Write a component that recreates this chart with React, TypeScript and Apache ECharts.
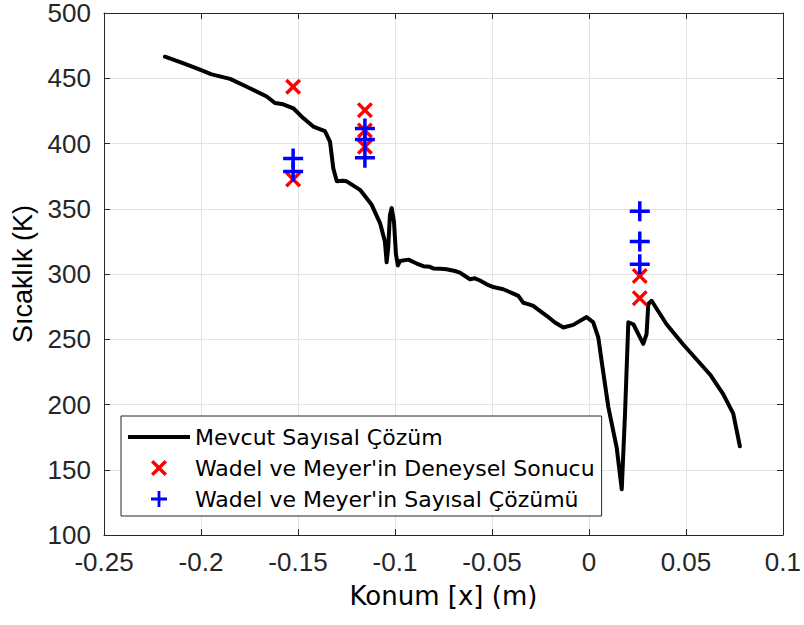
import React, { useEffect, useRef } from "react";
import * as echarts from "echarts";

const lineName = "Mevcut Sayısal Çözüm";
const expName = "Wadel ve Meyer'in Deneysel Sonucu";
const numName = "Wadel ve Meyer'in Sayısal Çözümü";

const xTicks = [-0.25, -0.2, -0.15, -0.1, -0.05, 0, 0.05, 0.1];
const yTicks = [100, 150, 200, 250, 300, 350, 400, 450, 500];

const mevcut: [number, number][] = [
  [-0.2186, 466.5], [-0.21, 462], [-0.2022, 457.5], [-0.1945, 453], [-0.185, 449.5],
  [-0.1764, 443.5], [-0.1661, 436], [-0.1619, 431], [-0.1576, 430], [-0.1524, 427],
  [-0.1473, 419.5], [-0.1421, 413], [-0.1361, 409.5], [-0.1335, 401.5], [-0.1318, 381],
  [-0.13, 371], [-0.127, 371.5], [-0.1249, 371], [-0.118, 364.5], [-0.112, 353],
  [-0.1077, 339], [-0.1052, 325], [-0.1043, 309], [-0.1035, 320], [-0.1026, 345],
  [-0.1017, 350.5], [-0.1005, 340], [-0.0995, 315], [-0.0985, 306.5], [-0.0974, 310],
  [-0.0931, 311], [-0.0888, 308], [-0.0854, 306], [-0.082, 305.5], [-0.0803, 304.3],
  [-0.0768, 304], [-0.0734, 303.6], [-0.0691, 302.3], [-0.0665, 301], [-0.0639, 298.5],
  [-0.0613, 296], [-0.0588, 296.7], [-0.0562, 295], [-0.0527, 292.1], [-0.0493, 290],
  [-0.0442, 288.3], [-0.039, 285], [-0.0364, 283.2], [-0.0339, 278], [-0.0313, 276.9],
  [-0.0287, 275.5], [-0.0253, 271.8], [-0.0218, 268], [-0.0175, 262.8], [-0.0132, 259],
  [-0.0081, 261], [-0.0012, 267], [0.0022, 263], [0.0048, 251.5], [0.0065, 233.6],
  [0.01, 198], [0.0143, 167], [0.0169, 135], [0.0186, 193], [0.0203, 263],
  [0.0229, 261.5], [0.028, 246.5], [0.0297, 254], [0.0306, 277], [0.0323, 279.5],
  [0.04, 261.5], [0.0486, 246], [0.0624, 223], [0.0692, 208], [0.0744, 193], [0.0778, 168],
];

const deneysel: [number, number][] = [
  [-0.1525, 443.5], [-0.1525, 372.5],
  [-0.1155, 425.5], [-0.1155, 410], [-0.1155, 397.5],
  [0.0262, 298.5], [0.0262, 281.5],
];

const sayisal: [number, number][] = [
  [-0.1525, 388.5], [-0.1525, 378.5],
  [-0.1155, 411.5], [-0.1155, 403], [-0.1155, 389],
  [0.0262, 348], [0.0262, 325], [0.0262, 307.5],
];

const d = 1.5;
const xPath = `path://M0,${d}L${d},0L5,${5 - d}L${10 - d},0L10,${d}L${5 + d},5L10,${10 - d}L${10 - d},10L5,${5 + d}L${d},10L0,${10 - d}L${5 - d},5Z`;
const a = 4.125, b = 5.875;
const plusPath = `path://M${a},0H${b}V${a}H10V${b}H${b}V10H${a}V${b}H0V${a}H${a}Z`;
const lineIcon = "path://M0,0H62V4H0Z";

const axisColor = "#262626";
const gridColor = "#e3e3e3";

export default function App() {
  const ref = useRef<HTMLDivElement>(null);
  useEffect(() => {
    if (!ref.current) return;
    const chart = echarts.init(ref.current, null, { renderer: "svg" });
    const tickFont = { fontFamily: "Liberation Sans", fontSize: 26, color: axisColor, lineHeight: 22 };
    chart.setOption({
      animation: false,
      backgroundColor: "#ffffff",
      grid: { left: 104, right: 21, top: 11, bottom: 90, containLabel: false },
      legend: {
        orient: "vertical",
        left: 121,
        top: 416,
        padding: [10, 7, 6, 7],
        itemWidth: 62,
        itemHeight: 16,
        itemGap: 9,
        symbolKeepAspect: true,
        backgroundColor: "#ffffff",
        borderColor: axisColor,
        borderWidth: 1,
        borderRadius: 0,
        data: [
          { name: lineName, icon: lineIcon, itemStyle: { color: "#000" } },
          { name: expName },
          { name: numName },
        ],
        textStyle: { fontFamily: "DejaVu Sans", fontSize: 22, color: "#000", lineHeight: 22 },
      },
      xAxis: [
        {
          type: "value",
          min: -0.25,
          max: 0.1,
          interval: 0.05,
          name: "Konum [x] (m)",
          nameLocation: "middle",
          nameGap: 48,
          nameTextStyle: { fontFamily: "DejaVu Sans", fontSize: 26, color: "#000" },
          axisLine: { show: true, onZero: false, lineStyle: { color: axisColor, width: 1 } },
          axisTick: { show: true, inside: true, length: 6, lineStyle: { color: axisColor } },
          axisLabel: {
            ...tickFont,
            margin: 16,
            formatter: (v: number) => {
              const t = xTicks.find((x) => Math.abs(x - v) < 1e-9);
              return t === undefined ? "" : String(Number(t.toFixed(2)));
            },
          },
          splitLine: { show: true, lineStyle: { color: gridColor, width: 1 } },
        },
        {
          type: "value",
          position: "top",
          min: -0.25,
          max: 0.1,
          interval: 0.05,
          axisLine: { show: true, onZero: false, lineStyle: { color: axisColor, width: 1 } },
          axisTick: { show: true, inside: true, length: 6, lineStyle: { color: axisColor } },
          axisLabel: { show: false },
          splitLine: { show: false },
        },
      ],
      yAxis: [
        {
          type: "value",
          min: 100,
          max: 500,
          interval: 50,
          name: "Sıcaklık (K)",
          nameLocation: "middle",
          nameGap: 64,
          nameRotate: 90,
          nameTextStyle: { fontFamily: "Liberation Sans", fontSize: 27, color: "#000" },
          axisLine: { show: true, onZero: false, lineStyle: { color: axisColor, width: 1 } },
          axisTick: { show: true, inside: true, length: 6, lineStyle: { color: axisColor } },
          axisLabel: { ...tickFont, margin: 13, formatter: (v: number) => (yTicks.includes(v) ? String(v) : "") },
          splitLine: { show: true, lineStyle: { color: gridColor, width: 1 } },
        },
        {
          type: "value",
          position: "right",
          min: 100,
          max: 500,
          interval: 50,
          axisLine: { show: true, onZero: false, lineStyle: { color: axisColor, width: 1 } },
          axisTick: { show: true, inside: true, length: 6, lineStyle: { color: axisColor } },
          axisLabel: { show: false },
          splitLine: { show: false },
        },
      ],
      series: [
        {
          name: lineName,
          type: "line",
          data: mevcut,
          symbol: "none",
          showSymbol: false,
          lineStyle: { color: "#000", width: 4, join: "round", cap: "round" },
          itemStyle: { color: "#000" },
          z: 2,
        },
        {
          name: expName,
          type: "scatter",
          data: deneysel,
          symbol: xPath,
          symbolSize: 16,
          itemStyle: { color: "#ff0000", opacity: 1 },
          z: 3,
        },
        {
          name: numName,
          type: "scatter",
          data: sayisal,
          symbol: plusPath,
          symbolSize: 20,
          itemStyle: { color: "#0000ff", opacity: 1 },
          z: 4,
        },
      ],
    });
    return () => chart.dispose();
  }, []);
  return <div ref={ref} style={{ width: 804, height: 625, position: "absolute", left: 0, top: 0 }} />;
}
